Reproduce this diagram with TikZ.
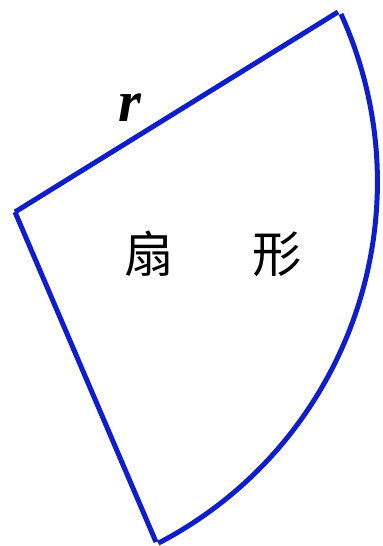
\documentclass[tikz,border=0pt]{standalone}
\usepackage{fontspec}
\setmainfont{Liberation Serif}
\newfontfamily\cjk{Noto Sans CJK SC}
\definecolor{sectorblue}{RGB}{15,30,205}
\tikzset{
  edge/.style={draw=sectorblue, line width=3.75pt},
  label/.style={inner sep=0pt}
}
\begin{document}
\begin{tikzpicture}[x=0.75pt, y=0.75pt]
			\useasboundingbox (0,0) rectangle (382,546);
			
			\coordinate (O) at (15,334);
			\coordinate (A) at (338,534);
			\coordinate (B) at (156,4);
			
			% the two radii
			\draw[edge] (O) -- (A);
			\draw[edge] (O) -- (B);
			
			% the arc, drawn apart from the radii
			\draw[edge] (341,532) arc[start angle=24.4, end angle=-62.5, radius=305.3pt];
			
			\node[label, font=\fontsize{44}{44}\selectfont\bfseries\itshape] (r) at (130,438) {r};
			\node[label, font=\cjk\fontsize{37}{37}\selectfont] (name) at (213,292) {扇\hspace{1.6em}形};
		\end{tikzpicture}
\end{document}
